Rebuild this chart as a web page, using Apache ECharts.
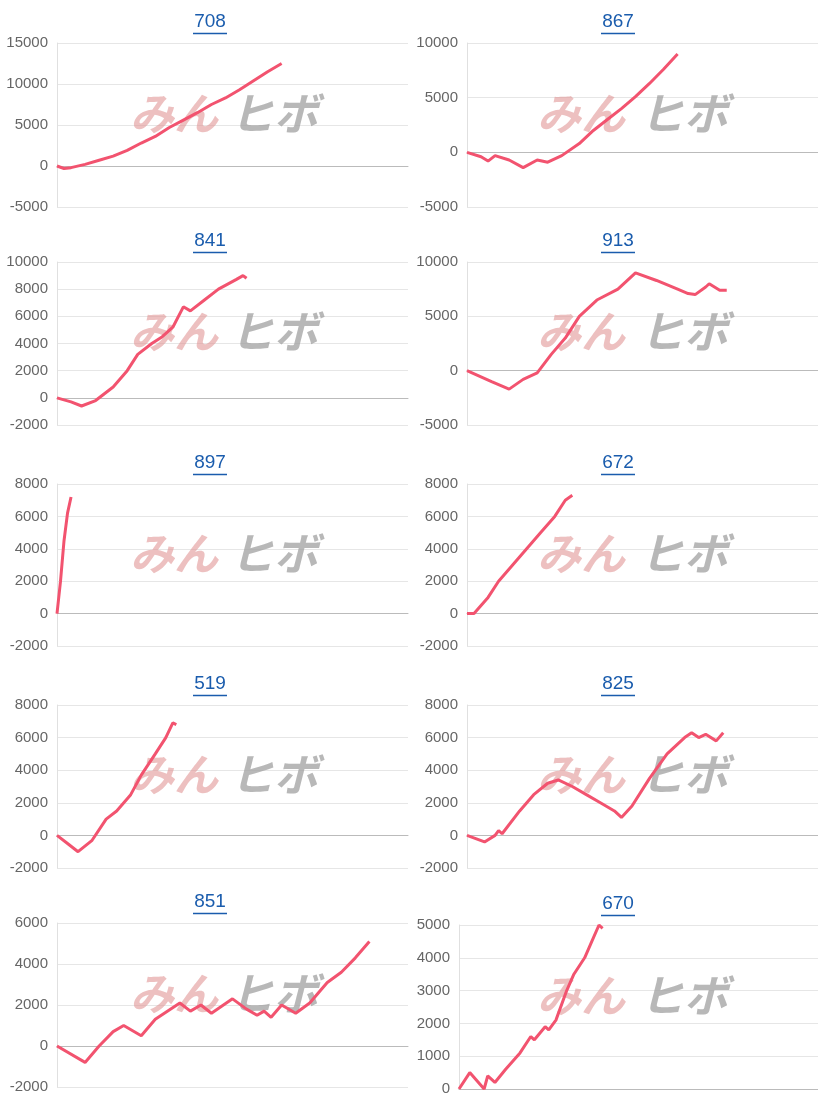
<!DOCTYPE html>
<html><head><meta charset="utf-8">
<script src="https://cdn.jsdelivr.net/npm/echarts@6/dist/echarts.min.js"></script>
<style>html,body{margin:0;background:#fff}#c{width:818px;height:1105px}</style>
</head><body><div id="c"></div>
<script>
// panel titles
const titles = ['708', '867', '841', '913', '897', '672', '519', '825', '851', '670'];
// y axis ranges
const yMins = [-5000, -5000, -2000, -5000, -2000, -2000, -2000, -2000, -2000, 0];
const yMaxs = [15000, 10000, 10000, 10000, 8000, 8000, 8000, 8000, 6000, 5000];
const yStep = [5000, 5000, 2000, 5000, 2000, 2000, 2000, 2000, 2000, 1000];
// progress (% of x range) and cumulative result per panel
const xs708 = [0, 2, 4, 8, 12, 16, 20, 24, 28, 32, 36, 40, 44, 48, 52, 56, 60, 64];
const ys708 = [0, -300, -200, 200, 700, 1200, 1900, 2800, 3600, 4700, 5600, 6500, 7500, 8300, 9300, 10400, 11500, 12500];
const xs867 = [0, 4, 6, 8, 12, 16, 20, 23, 27, 32, 36, 40, 44, 48, 52, 56, 60];
const ys867 = [0, -400, -800, -300, -700, -1400, -700, -900, -300, 800, 2000, 3000, 4000, 5100, 6300, 7600, 9000];
const xs841 = [0, 4, 7, 11, 16, 20, 23, 27, 30, 33, 36, 38, 42, 46, 51, 53, 54];
const ys841 = [0, -300, -600, -200, 800, 2000, 3200, 4000, 4500, 5200, 6700, 6400, 7200, 8000, 8700, 9000, 8800];
const xs913 = [0, 7, 12, 16, 20, 24, 28, 32, 37, 43, 48, 54, 60, 63, 65, 68, 69, 72, 74];
const ys913 = [0, -1000, -1700, -800, -200, 1500, 3000, 5000, 6500, 7500, 9000, 8300, 7500, 7100, 7000, 7700, 8000, 7400, 7400];
const xs897 = [0, 1, 2, 3, 4];
const ys897 = [0, 2000, 4500, 6200, 7200];
const xs672 = [0, 2, 6, 9, 13, 17, 21, 25, 28, 30];
const ys672 = [0, 0, 1000, 2000, 3000, 4000, 5000, 6000, 7000, 7300];
const xs519 = [0, 3, 6, 10, 14, 17, 21, 24, 28, 31, 33, 34];
const ys519 = [0, -500, -1000, -300, 1000, 1500, 2500, 3700, 5000, 6000, 6900, 6800];
const xs825 = [0, 5, 8, 9, 10, 15, 19, 23, 26, 30, 34, 38, 42, 44, 47, 52, 57, 62, 64, 66, 68, 71, 73];
const ys825 = [0, -400, 0, 300, 100, 1500, 2500, 3200, 3400, 3000, 2500, 2000, 1500, 1100, 1800, 3500, 5000, 6000, 6300, 6000, 6200, 5800, 6300];
const xs851 = [0, 8, 12, 16, 19, 24, 28, 35, 38, 41, 44, 50, 54, 57, 59, 61, 64, 68, 72, 77, 81, 85, 89];
const ys851 = [0, -800, 0, 700, 1000, 500, 1300, 2100, 1700, 2000, 1600, 2300, 1800, 1500, 1700, 1400, 2000, 1600, 2100, 3100, 3600, 4300, 5100];
const xs670 = [0, 3, 7, 8, 10, 13, 17, 20, 21, 24, 25, 27, 30, 32, 35, 37, 39, 40];
const ys670 = [0, 500, 0, 400, 200, 600, 1100, 1600, 1500, 1900, 1800, 2100, 3000, 3500, 4000, 4500, 5000, 4900];

const seriesX = [xs708, xs867, xs841, xs913, xs897, xs672, xs519, xs825, xs851, xs670];
const seriesY = [ys708, ys867, ys841, ys913, ys897, ys672, ys519, ys825, ys851, ys670];

const rows = [[43, 164], [262, 163], [484, 162], [705, 163], [923, 164]];
const chart = echarts.init(document.getElementById('c'));
const grid = [], xAxis = [], yAxis = [], series = [], graphic = [];
for (let i = 0; i < 10; i++) {
  const col = i % 2, r = Math.floor(i / 2);
  let left = col ? 467 : 57, top = rows[r][0], h = rows[r][1];
  if (i === 9) { left = 459; top = 925; }
  grid.push({ left, top, width: col ? 818 - left : 351, height: h });
  xAxis.push({ gridIndex: i, type: 'value', min: 0, max: 100,
    axisLabel: { show: false }, axisTick: { show: false }, splitLine: { show: false },
    axisLine: { onZero: true, lineStyle: { color: '#bbb', width: 1 } } });
  yAxis.push({ gridIndex: i, type: 'value', min: yMins[i], max: yMaxs[i], interval: yStep[i],
    axisLine: { show: true, lineStyle: { color: '#e0e0e0' } }, axisTick: { show: false },
    axisLabel: { color: '#666', fontSize: 15, fontFamily: 'Arial, Liberation Sans', margin: 9,
      formatter: v => String(v) },
    splitLine: { lineStyle: { color: '#e6e6e6' } } });
  series.push({ type: 'line', xAxisIndex: i, yAxisIndex: i, showSymbol: false, z: 5,
    lineStyle: { color: '#f2536f', width: 3 },
    data: seriesX[i].map((x, k) => [x, seriesY[i][k]]) });
  const cx = col ? 618 : 210;
  const ty = top - 31;
  graphic.push({ type: 'text', x: cx, y: ty, z: 10,
    style: { text: titles[i], fill: '#1a5cad', align: 'center', verticalAlign: 'top',
      font: '19px Arial, "Liberation Sans"' } });
  graphic.push({ type: 'line', shape: { x1: cx - 17, y1: ty + 21.5, x2: cx + 17, y2: ty + 21.5 },
    style: { stroke: '#1a5cad', lineWidth: 1.5 } });
  const wy = top + h / 2 - 34;
  graphic.push({ type: 'text', left: (col ? 537 : 130), top: wy, z: 1,
    style: { text: 'みん', fill: 'rgba(225,150,150,0.6)', font: 'italic bold 44px "Noto Sans CJK JP"' } });
  graphic.push({ type: 'text', left: (col ? 640 : 230), top: wy, z: 1,
    style: { text: 'ヒボ', fill: 'rgba(160,160,160,0.75)', font: 'italic bold 44px "Noto Sans CJK JP"' } });
}
chart.setOption({ animation: false, grid, xAxis, yAxis, series, graphic });
</script></body></html>
